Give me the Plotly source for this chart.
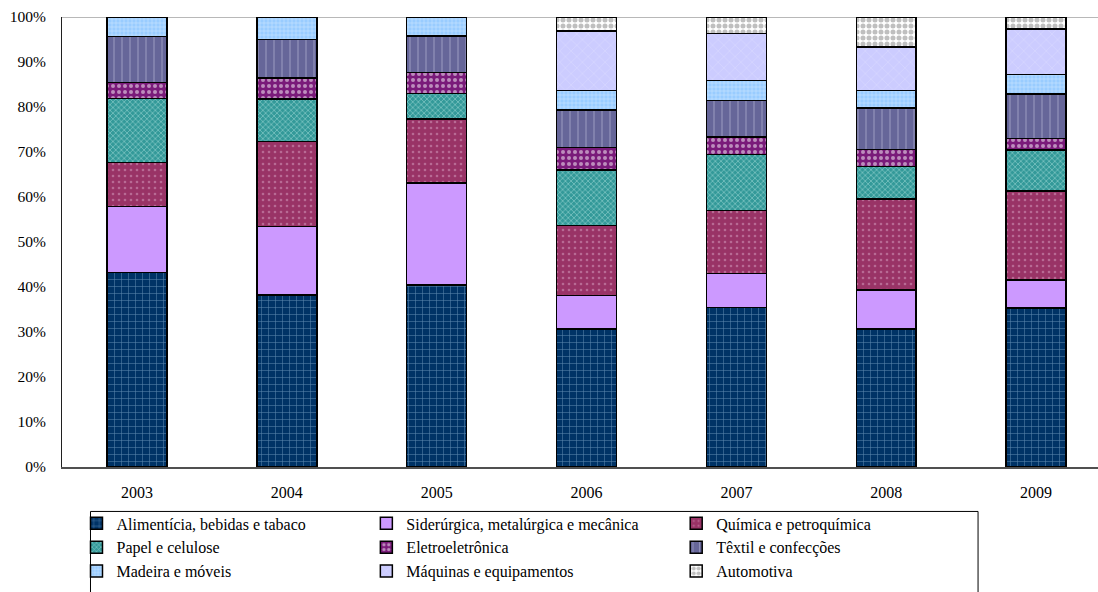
import plotly.graph_objects as go

# Industrial sector shares by year (% of total)
years = ["2003", "2004", "2005", "2006", "2007", "2008", "2009"]

alimenticia = [43.2, 38.2, 40.4, 30.7, 35.5, 30.7, 35.3]
siderurgica = [14.7, 15.2, 22.7, 7.4, 7.5, 8.6, 6.3]
quimica = [9.8, 18.9, 14.2, 15.6, 14.0, 20.3, 19.7]
papel = [14.2, 9.5, 5.7, 12.3, 12.5, 7.2, 9.2]
eletro = [3.6, 4.7, 4.7, 5.0, 3.8, 3.8, 2.5]
textil = [10.2, 8.5, 8.1, 8.3, 8.2, 9.2, 9.9]
madeira = [4.3, 5.0, 4.2, 4.4, 4.4, 3.9, 4.3]
maquinas = [0, 0, 0, 13.2, 10.4, 9.6, 10.1]
automotiva = [0, 0, 0, 3.1, 3.7, 6.7, 2.7]

# name, values, fill pattern, legend column
series = [
    ("Alimentícia, bebidas e tabaco", alimenticia,
     dict(shape="+", bgcolor="#003366", fgcolor="#b4d8f4", size=7, solidity=0.15), "legend"),
    ("Siderúrgica, metalúrgica e mecânica", siderurgica,
     dict(shape="", bgcolor="#CC99FF", fgcolor="#CC99FF"), "legend2"),
    ("Química e petroquímica", quimica,
     dict(shape=".", bgcolor="#993366", fgcolor="#d8a2c2", size=6, solidity=0.15), "legend3"),
    ("Papel e celulose", papel,
     dict(shape="x", bgcolor="#339999", fgcolor="#c8f0ec", size=4, solidity=0.35), "legend"),
    ("Eletroeletrônica", eletro,
     dict(shape=".", bgcolor="#7a1a7a", fgcolor="#ffffff", size=6, solidity=0.35), "legend2"),
    ("Têxtil e confecções", textil,
     dict(shape="|", bgcolor="#666699", fgcolor="#d4d4ee", size=8, solidity=0.12), "legend3"),
    ("Madeira e móveis", madeira,
     dict(shape="+", bgcolor="#99ccff", fgcolor="#ffffff", size=4, solidity=0.25), "legend"),
    ("Máquinas e equipamentos", maquinas,
     dict(shape="x", bgcolor="#ccccff", fgcolor="#eeeeff", size=8, solidity=0.12), "legend2"),
    ("Automotiva", automotiva,
     dict(shape=".", bgcolor="#ffffff", fgcolor="#808080", size=6, solidity=0.55), "legend3"),
]

FONT = "Liberation Serif, DejaVu Serif, serif"
FS = 16
W, H = 1098, 592
PL, PT, PB = 61.5, 17, 467.5          # plot-area edges in pixels
plot_w, plot_h = W - PL, PB - PT


def px_x(px):
    return (px - PL) / plot_w


def px_y(py):
    return (PB - py) / plot_h


fig = go.Figure()
for name, vals, pat, leg in series:
    fig.add_trace(go.Bar(
        x=years, y=vals, name=name, width=0.4, legend=leg, legendgroup=name,
        marker=dict(
            color=pat["bgcolor"],
            pattern=dict(fillmode="overlay", **pat),
            line=dict(color="#000000", width=1.5),
        ),
    ))

legend_common = dict(
    orientation="v", xanchor="left", yanchor="top", y=px_y(507),
    bgcolor="rgba(0,0,0,0)", borderwidth=0,
    traceorder="normal", itemwidth=30, tracegroupgap=1,
    font=dict(family=FONT, size=FS, color="#000000"),
)

fig.update_layout(
    width=W, height=H,
    barmode="stack",
    paper_bgcolor="white", plot_bgcolor="white",
    margin=dict(l=PL, r=0, t=PT, b=H - PB, autoexpand=False),
    font=dict(family=FONT, size=FS, color="#000000"),
    xaxis=dict(
        type="category", range=[-0.5, 6.413],
        showline=True, linecolor="#505050", linewidth=1.5,
        showgrid=False, ticks="", ticklabelstandoff=10,
        tickfont=dict(family=FONT, size=FS),
    ),
    yaxis=dict(
        range=[0, 100], dtick=10, ticksuffix="%",
        showline=True, linecolor="#202020", linewidth=1.2,
        showgrid=False, ticks="", ticklabelstandoff=12, zeroline=False,
        tickfont=dict(family=FONT, size=FS - 0.5),
    ),
    legend=dict(x=px_x(76), **legend_common),
    legend2=dict(x=px_x(366), **legend_common),
    legend3=dict(x=px_x(676), **legend_common),
    showlegend=True,
)

# Light border line along the top of the plotting area
fig.add_shape(type="line", xref="paper", yref="y", x0=0, x1=1, y0=100, y1=100,
              line=dict(color="#a0a0a0", width=1.5), layer="below")

# Frame around the legend block
fig.add_shape(type="rect", xref="paper", yref="paper",
              x0=px_x(90), x1=px_x(978), y0=px_y(600), y1=px_y(512),
              line=dict(color="#000000", width=1), fillcolor="rgba(0,0,0,0)")

fig.write_html("out.html")
